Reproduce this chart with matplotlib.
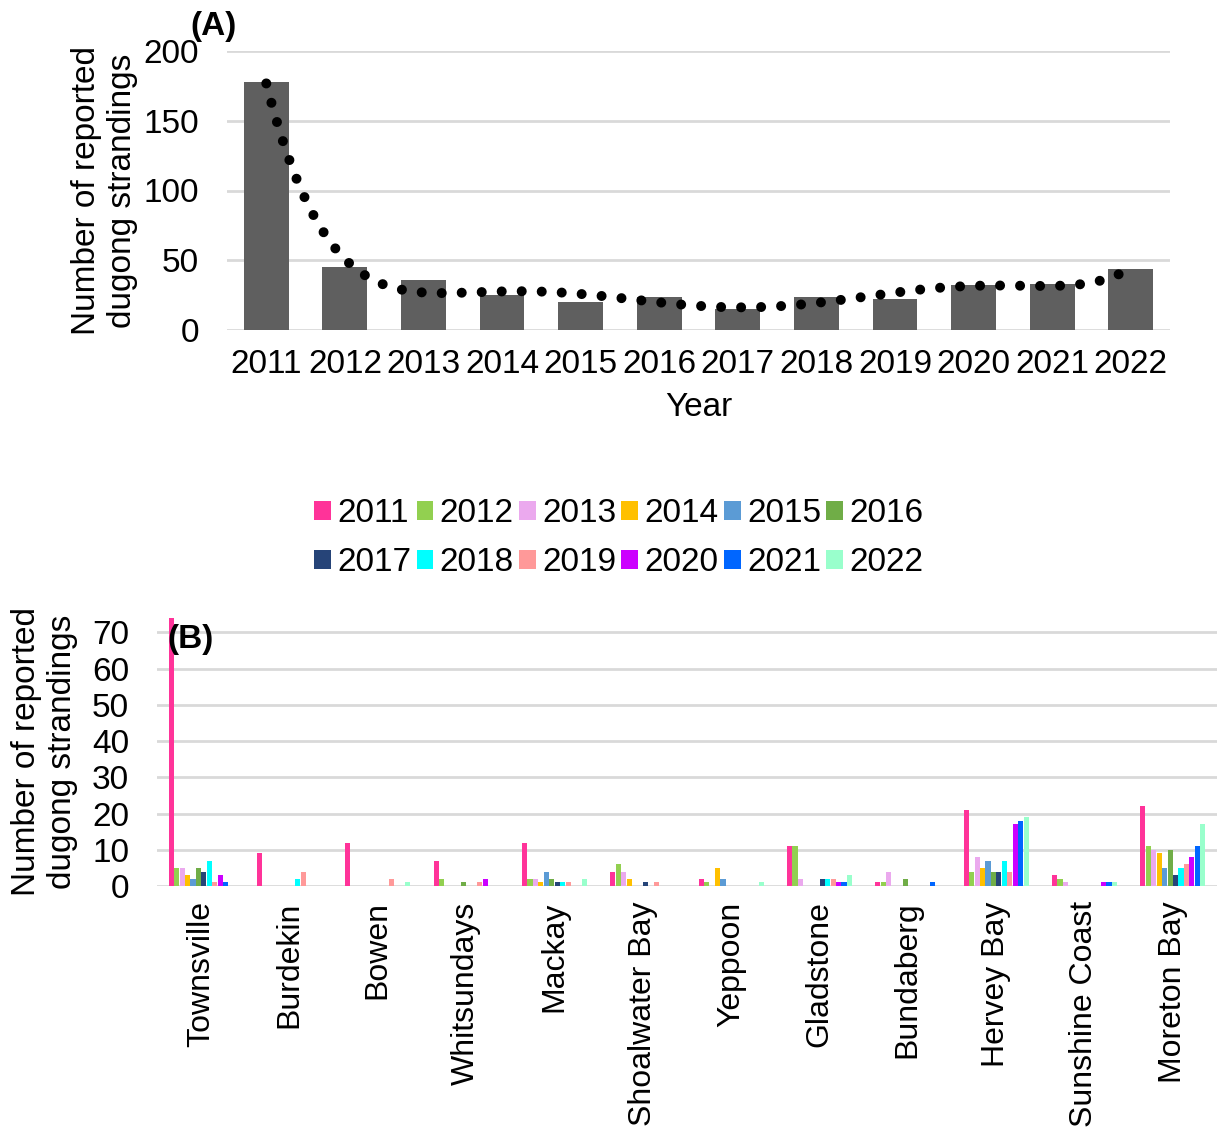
import matplotlib
matplotlib.use("Agg")
import matplotlib.pyplot as plt
import numpy as np

plt.rcParams['font.family'] = ['Liberation Sans', 'DejaVu Sans']
plt.rcParams['font.size'] = 24

# Panel A: total reported strandings per year
years = ['2011', '2012', '2013', '2014', '2015', '2016', '2017', '2018', '2019', '2020', '2021', '2022']
totals = [178, 45, 36, 25, 20, 24, 15, 24, 22, 32, 33, 44]

# Panel B: strandings per region and year (rows = regions, cols = years)
regions = ['Townsville', 'Burdekin', 'Bowen', 'Whitsundays', 'Mackay', 'Shoalwater Bay',
           'Yeppoon', 'Gladstone', 'Bundaberg', 'Hervey Bay', 'Sunshine Coast', 'Moreton Bay']
townsville   = [74, 5, 5, 3, 2, 5, 4, 7, 1, 3, 1, 0]
burdekin     = [9, 0, 0, 0, 0, 0, 0, 2, 4, 0, 0, 0]
bowen        = [12, 0, 0, 0, 0, 0, 0, 0, 2, 0, 0, 1]
whitsundays  = [7, 2, 0, 0, 0, 1, 0, 0, 1, 2, 0, 0]
mackay       = [12, 2, 2, 1, 4, 2, 1, 1, 1, 0, 0, 2]
shoalwater   = [4, 6, 4, 2, 0, 0, 1, 0, 1, 0, 0, 0]
yeppoon      = [2, 1, 0, 5, 2, 0, 0, 0, 0, 0, 0, 1]
gladstone    = [11, 11, 2, 0, 0, 0, 2, 2, 2, 1, 1, 3]
bundaberg    = [1, 1, 4, 0, 0, 2, 0, 0, 0, 0, 1, 0]
hervey_bay   = [21, 4, 8, 5, 7, 4, 4, 7, 4, 17, 18, 19]
sunshine     = [3, 2, 1, 0, 0, 0, 0, 0, 0, 1, 1, 1]
moreton_bay  = [22, 11, 10, 9, 5, 10, 3, 5, 6, 8, 11, 17]
by_region = np.array([townsville, burdekin, bowen, whitsundays, mackay, shoalwater,
                      yeppoon, gladstone, bundaberg, hervey_bay, sunshine, moreton_bay])

year_colors = ['#FF3399', '#92D050', '#EBA9EE', '#FFC000', '#5B9BD5', '#70AD47',
               '#264478', '#00FFFF', '#FF9999', '#CC00FF', '#0066FF', '#99FFCC']

W, H = 1218, 1127
fig = plt.figure(figsize=(W / 100, H / 100), dpi=100)

grid_color = '#D9D9D9'

# ---------- Panel A ----------
axA = fig.add_axes([227 / W, 1 - 330 / H, (1170 - 227) / W, (330 - 51) / H])
x = np.arange(len(years))
axA.bar(x, totals, width=0.57, color='#5F5F5F', zorder=2)

# polynomial trend line (as in the spreadsheet), drawn as round dots
coef = np.polyfit(x, totals, 6)
xs = np.linspace(0, len(years) - 1, 400)
axA.plot(xs, np.polyval(coef, xs), color='black', lw=7.2,
         linestyle=(0, (0.001, 2.0)), dash_capstyle='round', zorder=3)

axA.set_xlim(-0.5, len(years) - 0.5)
axA.set_ylim(0, 200)
axA.set_yticks([0, 50, 100, 150, 200])
axA.set_xticks(x)
axA.set_xticklabels(years)
axA.tick_params(length=0)
axA.tick_params(axis='x', pad=14)
axA.tick_params(axis='y', pad=20)
axA.yaxis.grid(True, color=grid_color, lw=2)
axA.set_axisbelow(True)
for s in axA.spines.values():
    s.set_visible(False)
axA.set_xlabel('Year', labelpad=8)
axA.set_ylabel('Number of reported\ndugong strandings', labelpad=4)
fig.text(190 / W, 1 - 27 / H, '(A)', fontweight='bold', fontsize=24, va='center', ha='left')

# ---------- Panel B ----------
axB = fig.add_axes([157 / W, 1 - 886 / H, (1217 - 157) / W, (886 - 618) / H])
n_years = len(years)
group_w = 0.74
bw = group_w / n_years
xr = np.arange(len(regions))
bars = []
for j in range(n_years):
    b = axB.bar(xr - group_w / 2 + bw * (j + 0.5), by_region[:, j], width=bw * 0.95,
                color=year_colors[j], label=years[j], zorder=2)
    bars.append(b)

axB.set_xlim(-0.5, len(regions) - 0.5)
axB.set_ylim(0, 74)
axB.set_yticks(range(0, 71, 10))
axB.set_xticks(xr)
axB.set_xticklabels(regions, rotation=90, fontsize=23)
axB.tick_params(length=0)
axB.tick_params(axis='x', pad=11)
axB.tick_params(axis='y', pad=20)
axB.yaxis.grid(True, color=grid_color, lw=2)
axB.set_axisbelow(True)
for s in axB.spines.values():
    s.set_visible(False)
axB.set_ylabel('Number of reported\ndugong strandings', labelpad=10)
axB.text(0.01, 0.92, '(B)', transform=axB.transAxes, fontweight='bold', fontsize=24,
         va='center', ha='left')

# legend fills column-wise, so interleave to get years along the rows
order = [k for pair in zip(range(6), range(6, 12)) for k in pair]
fig.legend([bars[k] for k in order], [years[k] for k in order], loc='center',
           bbox_to_anchor=(619 / W, 1 - 538 / H),
           ncol=6, frameon=False, handlelength=0.5, handleheight=0.5,
           handletextpad=0.2, columnspacing=0.15, labelspacing=0.55, fontsize=24)

fig.savefig('out.png', dpi=100)
